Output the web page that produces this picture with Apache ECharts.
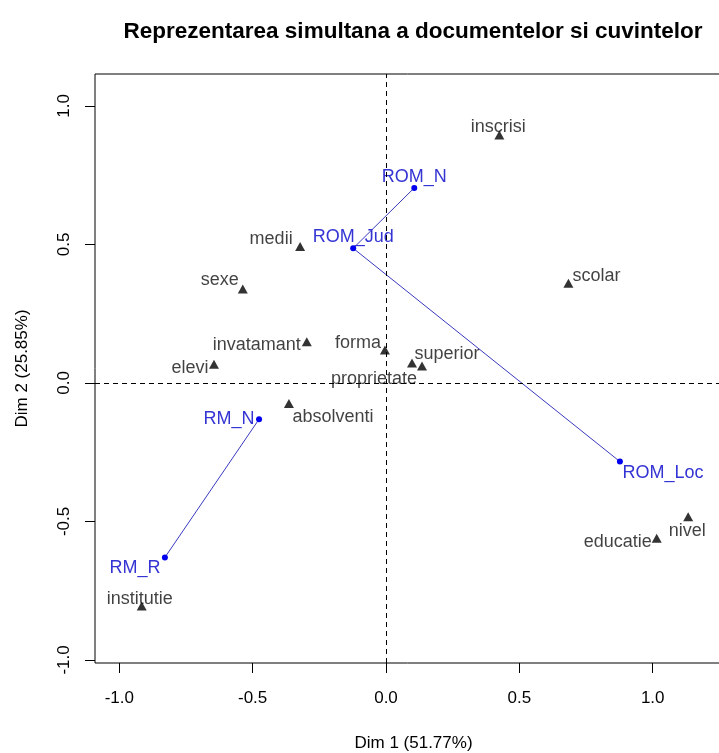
<!DOCTYPE html>
<html>
<head>
<meta charset="utf-8">
<script src="https://cdn.jsdelivr.net/npm/echarts@6/dist/echarts.min.js"></script>
<style>
html,body{margin:0;padding:0;background:#fff;}
#chart{width:719px;height:753px;}
</style>
</head>
<body>
<div id="chart"></div>
<script>
// ---- data ----
const rowNames = ['ROM_N', 'ROM_Jud', 'ROM_Loc', 'RM_N', 'RM_R'];
const rowX = [0.106, -0.123, 0.877, -0.476, -0.829];
const rowY = [0.704, 0.486, -0.284, -0.131, -0.630];
const rowGroups = [['ROM_N', 'ROM_Jud', 'ROM_Loc'], ['RM_N', 'RM_R']];

const colNames = ['inscrisi', 'medii', 'sexe', 'invatamant', 'forma', 'elevi', 'superior', 'proprietate', 'absolventi', 'institutie', 'scolar', 'nivel', 'educatie'];
const colX = [0.425, -0.322, -0.537, -0.297, -0.004, -0.645, 0.135, 0.0975, -0.364, -0.916, 0.684, 1.133, 1.015];
const colY = [0.895, 0.492, 0.339, 0.149, 0.119, 0.067, 0.061, 0.072, -0.074, -0.805, 0.360, -0.483, -0.561];

const xTicks = [-1.0, -0.5, 0.0, 0.5, 1.0];
const yTicks = [-1.0, -0.5, 0.0, 0.5, 1.0];

const titleText = 'Reprezentarea simultana a documentelor si cuvintelor';
const xName = 'Dim 1 (51.77%)';
const yName = 'Dim 2 (25.85%)';

// ---- label placement (presentation only, pixel offsets) ----
const labelOffsets = {
  'inscrisi': [-1, -8], 'medii': [-29, -8], 'sexe': [-23, -9], 'invatamant': [-50, 3],
  'forma': [-27, -7], 'elevi': [-24, 4], 'superior': [25, -12], 'proprietate': [-38, 16],
  'absolventi': [44, 14], 'institutie': [-2, -7], 'scolar': [28, -7], 'nivel': [-1, 14],
  'educatie': [-39, 4],
  'ROM_N': [0, -11], 'ROM_Jud': [0, -11], 'ROM_Loc': [43, 11], 'RM_N': [-30, 0], 'RM_R': [-30, 11]
};

const FONT = '"Liberation Sans", Arial, Helvetica, sans-serif';
const BLUE = '#0000ee';
const BLUE_TEXT = '#3434d4';

const chart = echarts.init(document.getElementById('chart'), null, {renderer: 'canvas'});

const colData = colNames.map((n, i) => ({
  name: n,
  value: [colX[i], colY[i]],
  label: {offset: labelOffsets[n]}
}));

const lineSeries = rowGroups.map((grp, gi) => ({
  type: 'line',
  name: 'rows' + gi,
  data: grp.map(n => {
    const i = rowNames.indexOf(n);
    return {name: n, value: [rowX[i], rowY[i]], label: {offset: labelOffsets[n]}};
  }),
  symbol: 'circle',
  symbolSize: 6,
  showAllSymbol: true,
  itemStyle: {color: BLUE},
  lineStyle: {color: '#3a3ac0', width: 1},
  label: {
    show: true, position: 'inside', formatter: p => p.name,
    color: BLUE_TEXT, fontSize: 18, fontFamily: FONT
  },
  emphasis: {disabled: true},
  silent: true,
  z: 3
}));

const option = {
  animation: false,
  backgroundColor: '#fff',
  graphic: [{
    type: 'text', x: 413, y: 32,
    style: {text: titleText, font: 'bold 22.5px ' + FONT, fill: '#000', align: 'center', verticalAlign: 'middle'}
  }],
  grid: {
    left: 95, top: 74, right: -13, bottom: 90,
    outerBoundsMode: 'none', containLabel: false,
    show: true, borderColor: '#000', borderWidth: 1, backgroundColor: 'transparent'
  },
  xAxis: {
    type: 'value', min: -1.0911, max: 1.2973,
    name: xName, nameLocation: 'middle', nameGap: 72,
    nameTextStyle: {fontSize: 17, fontFamily: FONT, color: '#000'},
    axisLine: {show: false, onZero: false},
    axisTick: {show: true, length: 10, inside: false, customValues: xTicks, lineStyle: {color: '#000'}},
    axisLabel: {show: true, customValues: xTicks, margin: 27, fontSize: 17, fontFamily: FONT, color: '#000',
      formatter: v => v.toFixed(1)},
    splitLine: {show: false}
  },
  yAxis: {
    type: 'value', min: -1.0112, max: 1.1152,
    name: yName, nameLocation: 'middle', nameGap: 64,
    nameTextStyle: {fontSize: 17, fontFamily: FONT, color: '#000'},
    axisLine: {show: false, onZero: false},
    axisTick: {show: true, length: 10, inside: false, customValues: yTicks, lineStyle: {color: '#000'}},
    axisLabel: {show: true, customValues: yTicks, margin: 22, rotate: 90, fontSize: 17, fontFamily: FONT, color: '#000',
      formatter: v => v.toFixed(1)},
    splitLine: {show: false}
  },
  series: [
    {
      type: 'scatter',
      name: 'cols',
      data: colData,
      symbol: 'triangle',
      symbolSize: [10, 9],
      itemStyle: {color: '#000'},
      label: {
        show: true, position: 'inside', formatter: p => p.name,
        color: '#111', fontSize: 18, fontFamily: FONT
      },
      emphasis: {disabled: true},
      silent: true,
      markLine: {
        silent: true,
        symbol: ['none', 'none'],
        label: {show: false},
        lineStyle: {color: '#000', type: [5, 4], width: 1},
        data: [{xAxis: 0}, {yAxis: 0}]
      },
      z: 2
    },
    ...lineSeries
  ]
};

chart.setOption(option);
</script>
</body>
</html>
